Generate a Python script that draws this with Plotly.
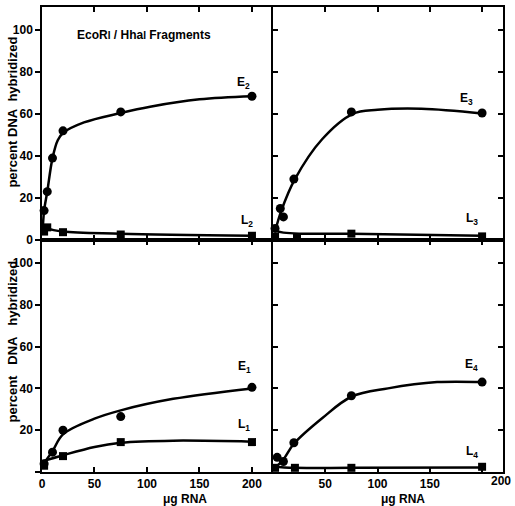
import plotly.graph_objects as go

# ---- data ----
# top-left panel (E2 / L2)
e2_x = [2, 5, 10, 20, 75, 200]
e2_y = [14, 23, 39, 52, 61, 68.5]
e2_fit_x = [0.5, 2, 5, 10, 15, 20, 40, 75, 103, 150, 200]
e2_fit_y = [3, 14, 23, 39, 47.5, 51, 56, 60.5, 63.5, 67, 68.5]
l2_x = [2, 5, 20, 75, 200]
l2_y = [4, 6, 3.7, 2.6, 2]
l2_fit_x = [0, 5, 20, 75, 200]
l2_fit_y = [7, 5.5, 4, 3, 2]

# top-right panel (E3 / L3)
e3_x = [2, 7, 10, 20, 75, 200]
e3_y = [5.5, 15, 11, 29, 61, 60.5]
e3_fit_x = [2, 8, 21, 47, 76, 100, 142, 200]
e3_fit_y = [4, 14, 29, 48, 60, 62, 62.5, 60.3]
l3_x = [2, 23, 75, 200]
l3_y = [1.5, 1.2, 3, 1.7]
l3_fit_x = [0, 10, 25, 75, 200]
l3_fit_y = [4.5, 3.5, 3, 3, 2]

# bottom-left panel (E1 / L1)
e1_x = [2, 10, 20, 75, 200]
e1_y = [4, 9.5, 20, 26.5, 40.5]
e1_fit_x = [0, 10, 20, 50, 75, 125, 200]
e1_fit_y = [3, 10, 18, 25.5, 29.5, 35, 40]
l1_x = [2, 20, 75, 200]
l1_y = [3, 7.6, 14.3, 14.3]
l1_fit_x = [0, 20, 50, 75, 125, 200]
l1_fit_y = [5, 8, 12, 14, 15, 14.5]

# bottom-right panel (E4 / L4)
e4_x = [4, 10, 20, 75, 200]
e4_y = [7, 5, 14, 36.5, 43]
e4_fit_x = [2, 10, 20, 47, 75, 110, 157, 200]
e4_fit_y = [2, 6, 13.5, 25.7, 36, 40, 43, 43]
l4_x = [2, 21, 75, 200]
l4_y = [2, 2, 2, 2.5]
l4_fit_x = [0, 20, 75, 200]
l4_fit_y = [2.5, 2, 2, 2.2]

x_ticks = [0, 50, 100, 150, 200]
y_ticks = [0, 20, 40, 60, 80, 100]

FONT = "Liberation Sans"
BLK = "black"

fig = go.Figure()

panels = [
    ("x", "y", e2_x, e2_y, e2_fit_x, e2_fit_y, l2_x, l2_y, l2_fit_x, l2_fit_y),
    ("x2", "y2", e3_x, e3_y, e3_fit_x, e3_fit_y, l3_x, l3_y, l3_fit_x, l3_fit_y),
    ("x3", "y3", e1_x, e1_y, e1_fit_x, e1_fit_y, l1_x, l1_y, l1_fit_x, l1_fit_y),
    ("x4", "y4", e4_x, e4_y, e4_fit_x, e4_fit_y, l4_x, l4_y, l4_fit_x, l4_fit_y),
]
for xa, ya, ex, ey, efx, efy, lx, ly, lfx, lfy in panels:
    fig.add_trace(go.Scatter(x=efx, y=efy, mode="lines", line=dict(color=BLK, width=2.5, shape="spline", smoothing=1.0),
                             xaxis=xa, yaxis=ya, showlegend=False, hoverinfo="skip"))
    fig.add_trace(go.Scatter(x=lfx, y=lfy, mode="lines", line=dict(color=BLK, width=2.5, shape="spline", smoothing=1.0),
                             xaxis=xa, yaxis=ya, showlegend=False, hoverinfo="skip"))
    fig.add_trace(go.Scatter(x=ex, y=ey, mode="markers", marker=dict(symbol="circle", size=9, color=BLK),
                             xaxis=xa, yaxis=ya, showlegend=False, cliponaxis=False))
    fig.add_trace(go.Scatter(x=lx, y=ly, mode="markers", marker=dict(symbol="square", size=8, color=BLK),
                             xaxis=xa, yaxis=ya, showlegend=False, cliponaxis=False))

XL = [0, 0.501]
XR = [0.501, 1]
YT = [0.499, 1]
YB = [0, 0.499]
XR_RANGE = [0, 220]
YR_RANGE = [0, 111]

tickfont = dict(family=FONT, size=12, color=BLK, weight="bold")

def xax(domain, anchor, labels, ticktext=None):
    d = dict(domain=domain, anchor=anchor, range=XR_RANGE, showgrid=False, zeroline=False,
             showline=True, linecolor=BLK, linewidth=1.5, mirror="ticks",
             ticks="inside", ticklen=5, tickwidth=1.5, tickcolor=BLK,
             tickvals=x_ticks, showticklabels=labels, tickfont=tickfont, fixedrange=True)
    if ticktext is not None:
        d["ticktext"] = ticktext
    return d

def yax(domain, anchor, labels, ticks, mirror, ticktext=None):
    d = dict(domain=domain, anchor=anchor, range=YR_RANGE, showgrid=False, zeroline=False,
             showline=True, linecolor=BLK, linewidth=1.5, mirror=mirror,
             ticks=ticks, ticklen=5, tickwidth=1.5, tickcolor=BLK,
             tickvals=y_ticks, showticklabels=labels, tickfont=tickfont, fixedrange=True)
    if ticktext is not None:
        d["ticktext"] = ticktext
    return d

fig.update_layout(
    width=515, height=506,
    margin=dict(l=42, r=12, t=5, b=34),
    paper_bgcolor="white", plot_bgcolor="white",
    xaxis=xax(XL, "y", False),
    yaxis=yax(YT, "x", True, "outside", False),
    xaxis2=xax(XR, "y2", False),
    yaxis2=yax(YT, "x2", False, "inside", "ticks"),
    xaxis3=xax(XL, "y3", True),
    yaxis3=yax(YB, "x3", True, "outside", False, ticktext=["", "20", "40", "60", "80", "100"]),
    xaxis4=xax(XR, "y4", True, ticktext=["", "50", "100", "150", ""]),
    yaxis4=yax(YB, "x4", False, "inside", "ticks"),
)

ann = []
lab_font = dict(family=FONT, size=12, color=BLK, weight="bold")
ytitle_font = dict(family=FONT, size=13, color=BLK, weight="bold")
# y-axis titles
ann.append(dict(text="percent\u00a0DNA\u00a0\u00a0hybridized", xref="paper", yref="paper", x=-0.063, y=0.775,
                textangle=-90, showarrow=False, font=ytitle_font,
                xanchor="center", yanchor="middle"))
ann.append(dict(text="percent\u00a0\u00a0\u00a0DNA\u00a0\u00a0\u00a0hybridized", xref="paper", yref="paper", x=-0.063, y=0.2805,
                textangle=-90, showarrow=False, font=ytitle_font,
                xanchor="center", yanchor="middle"))
# x-axis titles
for xp in [0.31, 0.783]:
    ann.append(dict(text="\u03bcg RNA", xref="paper", yref="paper", x=xp, y=-0.057, showarrow=False,
                    font=lab_font, xanchor="center", yanchor="middle"))
# '200' label at the right border of bottom-right panel
ann.append(dict(text="200", xref="x4", yref="paper", x=218, y=-0.001, showarrow=False,
                font=tickfont, xanchor="center", yanchor="top"))
# panel title
ann.append(dict(text="EcoR<span style='font-size:10px'>I</span> / Hha<span style='font-size:10px'>I</span> Fragments",
                xref="paper", yref="paper", x=0.221, y=0.94, showarrow=False, font=lab_font,
                xanchor="center", yanchor="middle"))
# series labels
series_labels = [
    ("E<sub>2</sub>", "x", "y", 192, 75), ("L<sub>2</sub>", "x", "y", 195, 9),
    ("E<sub>3</sub>", "x2", "y2", 185, 67), ("L<sub>3</sub>", "x2", "y2", 190, 10),
    ("E<sub>1</sub>", "x3", "y3", 193, 50), ("L<sub>1</sub>", "x3", "y3", 192, 22.5),
    ("E<sub>4</sub>", "x4", "y4", 190, 51), ("L<sub>4</sub>", "x4", "y4", 190, 9.5),
]
for t, xr, yr, xv, yv in series_labels:
    ann.append(dict(text=t, xref=xr, yref=yr, x=xv, y=yv, showarrow=False, font=lab_font,
                    xanchor="center", yanchor="middle"))

fig.update_layout(annotations=ann)

fig.write_html("out.html")
